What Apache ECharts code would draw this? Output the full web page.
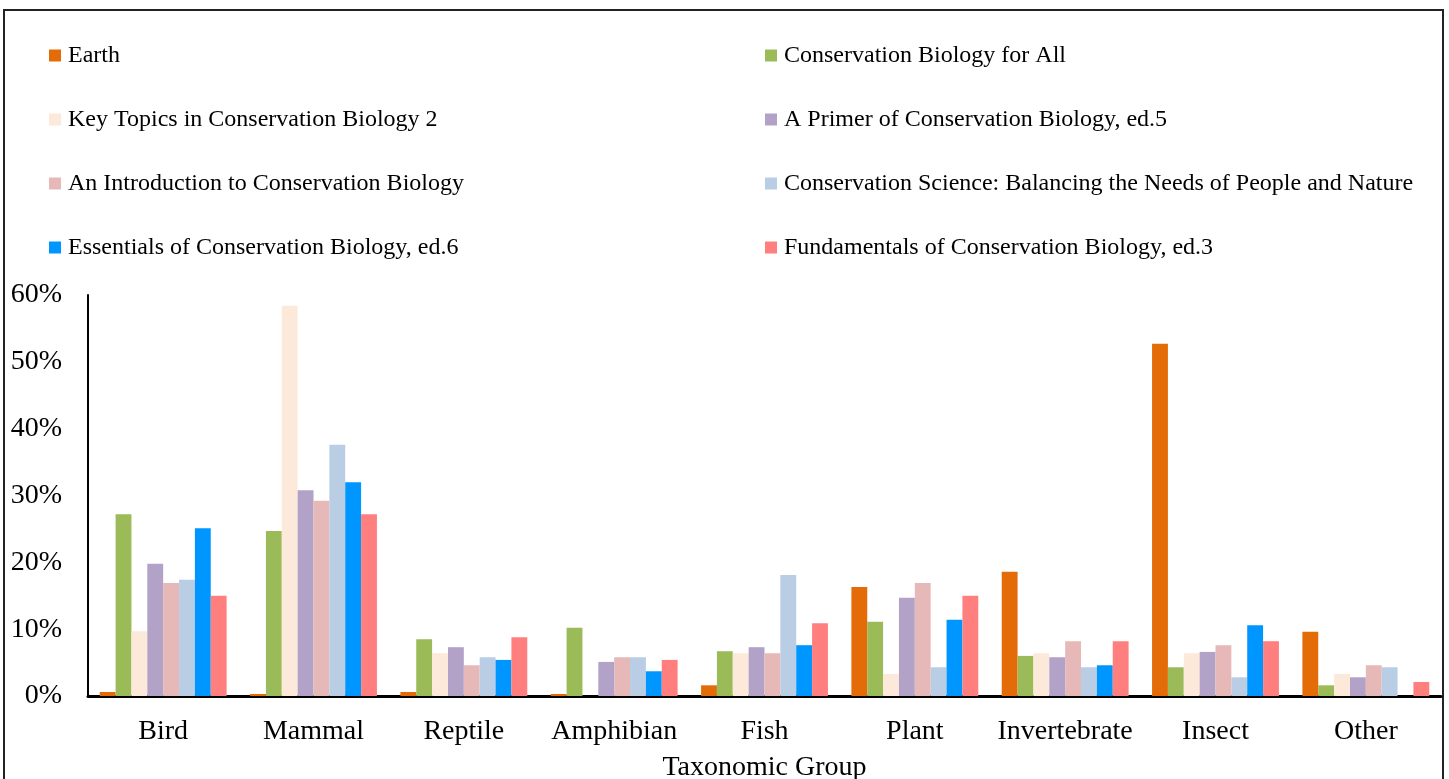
<!DOCTYPE html>
<html>
<head>
<meta charset="utf-8">
<script src="https://cdn.jsdelivr.net/npm/echarts@6/dist/echarts.min.js"></script>
<style>
  html, body { margin: 0; padding: 0; background: #fff; }
  #main { width: 1449px; height: 779px; }
</style>
</head>
<body>
<div id="main"></div>
<script>
// taxonomic groups on the x axis
const groups = ['Bird', 'Mammal', 'Reptile', 'Amphibian', 'Fish', 'Plant', 'Invertebrate', 'Insect', 'Other'];

// percent of species per group, one array per source
const earth      = [0.6, 0.3, 0.6, 0.3, 1.6, 16.3, 18.6, 52.7, 9.6];
const forAll     = [27.2, 24.7, 8.5, 10.2, 6.7, 11.1, 6.0, 4.3, 1.6];
const keyTopics  = [9.7, 58.4, 6.4, 0, 6.4, 3.3, 6.4, 6.4, 3.3];
const primer     = [19.8, 30.8, 7.3, 5.1, 7.3, 14.7, 5.8, 6.6, 2.8];
const intro      = [16.9, 29.2, 4.6, 5.8, 6.4, 16.9, 8.2, 7.6, 4.6];
const consSci    = [17.4, 37.6, 5.8, 5.8, 18.1, 4.3, 4.3, 2.8, 4.3];
const essentials = [25.1, 32.0, 5.4, 3.7, 7.6, 11.4, 4.6, 10.6, 0];
const fundament  = [15.0, 27.2, 8.8, 5.4, 10.9, 15.0, 8.2, 8.2, 2.1];

const names = [
  'Earth',
  'Conservation Biology for All',
  'Key Topics in Conservation Biology 2',
  'A Primer of Conservation Biology, ed.5',
  'An Introduction to Conservation Biology',
  'Conservation Science: Balancing the Needs of People and Nature',
  'Essentials of Conservation Biology, ed.6',
  'Fundamentals of Conservation Biology, ed.3'
];
const values = [earth, forAll, keyTopics, primer, intro, consSci, essentials, fundament];
const colors = ['#E36C09', '#9BBB59', '#FDE9D9', '#B2A2C7', '#E6B9B8', '#B9CDE5', '#0096FF', '#FF7F7F'];

const font = 'Liberation Serif';
const chart = echarts.init(document.getElementById('main'));

const legendBase = {
  orient: 'vertical',
  top: 43,
  padding: 0,
  icon: 'rect',
  itemWidth: 12,
  itemHeight: 12,
  itemGap: 39,
  textStyle: { fontFamily: font, fontSize: 24, color: '#000', lineHeight: 25, padding: [0, 0, 0, 2] }
};

const option = {
  animation: false,
  backgroundColor: '#fff',
  graphic: [{
    type: 'rect',
    shape: { x: 4, y: 10, width: 1439, height: 800 },
    style: { fill: 'none', stroke: '#222', lineWidth: 2 },
    silent: true
  }],
  legend: [
    Object.assign({ left: 49, data: [names[0], names[2], names[4], names[6]] }, legendBase),
    Object.assign({ left: 765, data: [names[1], names[3], names[5], names[7]] }, legendBase)
  ],
  grid: { left: 88, right: 8, top: 295, bottom: 83, outerBoundsMode: 'none', containLabel: false },
  xAxis: {
    type: 'category',
    data: groups,
    name: 'Taxonomic Group',
    nameLocation: 'middle',
    nameGap: 58,
    nameTextStyle: { fontFamily: font, fontSize: 28, color: '#000' },
    axisLine: { lineStyle: { color: '#000', width: 3 } },
    axisTick: { show: false },
    axisLabel: { fontFamily: font, fontSize: 28, color: '#000', margin: 22, interval: 0 }
  },
  yAxis: {
    type: 'value',
    min: 0,
    max: 60,
    interval: 10,
    axisLine: { show: true, lineStyle: { color: '#000', width: 2 } },
    axisTick: { show: false },
    splitLine: { show: false },
    axisLabel: { fontFamily: font, fontSize: 28, color: '#000', margin: 26, formatter: '{value}%' }
  },
  series: names.map((n, i) => ({
    name: n,
    type: 'bar',
    data: values[i],
    barGap: '0%',
    barCategoryGap: '15.6%',
    itemStyle: { color: colors[i] }
  }))
};

chart.setOption(option);
</script>
</body>
</html>
